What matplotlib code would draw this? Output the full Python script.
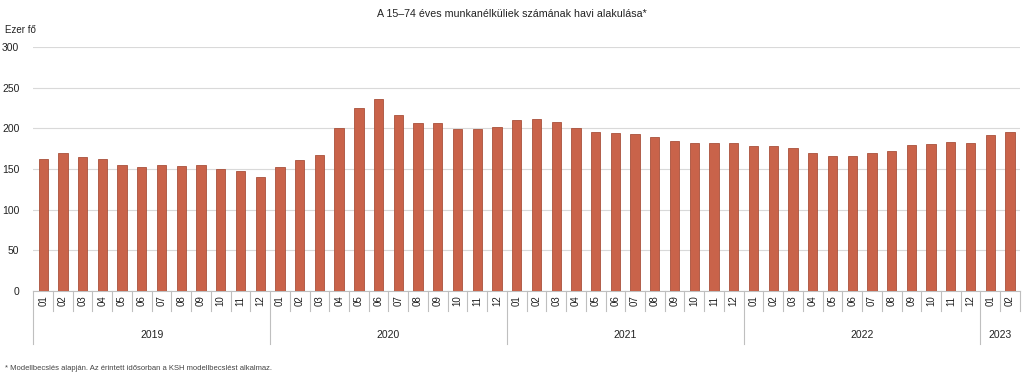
import matplotlib.pyplot as plt
import matplotlib.transforms as mtransforms

plt.rcParams['font.family'] = ['Liberation Sans', 'DejaVu Sans']

title = "A 15–74 éves munkanélküliek számának havi alakulása*"
ylabel = "Ezer fő"
footnote = "* Modellbecslés alapján. Az érintett idősorban a KSH modellbecslést alkalmaz."

years = ["2019", "2020", "2021", "2022", "2023"]
months_per_year = [12, 12, 12, 12, 2]
month_labels = ["01", "02", "03", "04", "05", "06", "07", "08", "09", "10", "11", "12"]

values = [
    # 2019
    162.2, 169.9, 165.0, 162.2, 155.2, 152.4, 154.4, 153.2, 154.4, 149.5, 147.5, 140.6,
    # 2020
    152.4, 161.3, 167.0, 200.0, 224.4, 236.6, 215.8, 206.8, 206.1, 199.1, 199.1, 201.2,
    # 2021
    210.1, 211.0, 207.3, 200.4, 195.5, 194.3, 193.4, 189.8, 184.5, 182.4, 181.7, 182.4,
    # 2022
    178.0, 178.0, 175.6, 169.9, 165.9, 165.9, 169.9, 172.7, 179.3, 180.9, 183.7, 182.4,
    # 2023
    191.5, 195.1,
]

bar_color = '#c9634a'
edge_color = '#a9513b'
sep_color = '#bfbfbf'


def plot_unemployment():
    fig = plt.figure(figsize=(10.24, 3.76), dpi=100)
    ax = fig.add_axes([0.0325, 0.226, 0.9635, 0.649])

    x = list(range(len(values)))
    ax.bar(x, values, width=0.47, color=bar_color, edgecolor=edge_color, linewidth=0.6, zorder=3)

    ax.set_xlim(-0.5, len(values) - 0.5)
    ax.set_ylim(0, 300)
    ax.set_yticks(range(0, 301, 50))
    ax.yaxis.grid(True, color='#d9d9d9', linewidth=0.8)
    ax.set_axisbelow(True)
    ax.tick_params(axis='y', length=0, labelsize=7.5, pad=10, colors='#222222')
    ax.set_xticks([])
    for sp in ('top', 'right', 'left'):
        ax.spines[sp].set_visible(False)
    ax.spines['bottom'].set_color(sep_color)
    ax.spines['bottom'].set_linewidth(0.8)

    trans = mtransforms.blended_transform_factory(ax.transData, ax.transAxes)
    month_drop = -0.082
    year_drop = -0.217

    # month labels and separators
    pos = 0
    year_edges = [-0.5]
    for yr, n in zip(years, months_per_year):
        for m in range(n):
            ax.text(pos + m, -0.039, month_labels[m], transform=trans, rotation=90,
                    ha='center', va='center', fontsize=7, color='#222222')
            if m > 0:
                ax.plot([pos + m - 0.5] * 2, [0, month_drop], transform=trans,
                        color=sep_color, lw=0.8, clip_on=False)
        ax.text(pos + (n - 1) / 2, -0.182, yr, transform=trans, ha='center', va='center',
                fontsize=7.5, color='#222222')
        pos += n
        year_edges.append(pos - 0.5)

    for xe in year_edges[:-1]:
        ax.plot([xe, xe], [0, year_drop], transform=trans, color=sep_color, lw=0.8, clip_on=False)
    # right end only reaches the month row
    ax.plot([year_edges[-1]] * 2, [0, month_drop], transform=trans, color=sep_color, lw=0.8, clip_on=False)

    fig.text(0.5, 0.962, title, ha='center', va='center', fontsize=7.7, color='#222222')
    fig.text(0.005, 0.92, ylabel, ha='left', va='center', fontsize=7, color='#222222')
    fig.text(0.005, 0.02, footnote, ha='left', va='center', fontsize=5.5, color='#444444')

    fig.savefig('out.png', dpi=100)


if __name__ == '__main__':
    plot_unemployment()
